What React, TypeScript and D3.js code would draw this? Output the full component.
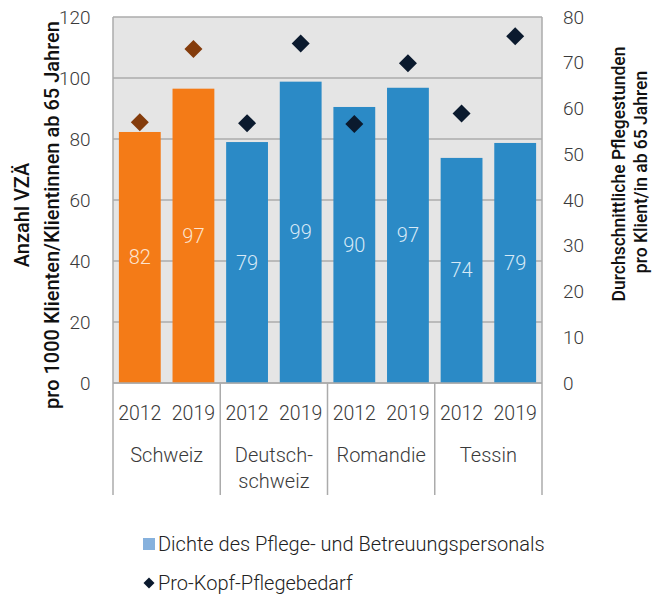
import React from "react";
import * as d3 from "d3";

const groups = ["Schweiz", "Deutsch-\nschweiz", "Romandie", "Tessin"];
const years = ["2012", "2019"];
const barValues = [82.3, 96.5, 79.0, 98.8, 90.5, 96.8, 73.8, 78.7];
const barLabels = ["82", "97", "79", "99", "90", "97", "74", "79"];
const diamondValues = [57.0, 73.0, 56.8, 74.2, 56.6, 69.9, 58.9, 75.8];
const leftTicks = [0, 20, 40, 60, 80, 100, 120];
const rightTicks = [0, 10, 20, 30, 40, 50, 60, 70, 80];

const W = 655;
const H = 596;
const left = 113;
const right = 542;
const top = 17;
const bottom = 383;
const FONT = "Roboto, 'Noto Sans', sans-serif";

export default function App() {
  const keys = barValues.map((_, i) => String(i));
  const x = d3.scaleBand<string>().domain(keys).range([left, right]).paddingInner(0.22).paddingOuter(0.11);
  const yL = d3.scaleLinear().domain([0, 120]).range([bottom, top]);
  const yR = d3.scaleLinear().domain([0, 80]).range([bottom, top]);
  const groupW = (right - left) / groups.length;
  const gridColor = "#ababab";
  const textColor = "#3a3a3a";
  const diamond = (cx: number, cy: number, r: number) =>
    `M${cx},${cy - r}L${cx + r},${cy}L${cx},${cy + r}L${cx - r},${cy}Z`;

  return (
    <svg width={W} height={H} style={{ position: "absolute", left: 0, top: 0 }} fontFamily={FONT}>
      <rect x={left} y={top} width={right - left} height={bottom - top} fill="#e5e5e5" />
      {leftTicks.map((t) => (
        <line key={t} x1={left} x2={right} y1={yL(t)} y2={yL(t)} stroke={gridColor} strokeWidth={1.5} />
      ))}
      <line x1={left} x2={left} y1={top} y2={bottom} stroke={gridColor} strokeWidth={1.5} />
      <line x1={right} x2={right} y1={top} y2={bottom} stroke={gridColor} strokeWidth={1.5} />
      {barValues.map((v, i) => (
        <rect
          key={i}
          x={x(String(i))}
          y={yL(v)}
          width={x.bandwidth()}
          height={bottom - yL(v)}
          fill={i < 2 ? "#f47b17" : "#2b8ac6"}
        />
      ))}
      {barValues.map((v, i) => (
        <text
          key={i}
          x={(x(String(i)) as number) + x.bandwidth() / 2}
          y={(yL(v) + bottom) / 2}
          dy="0.35em"
          textAnchor="middle"
          fontSize={20}
          fontWeight={300}
          fill={i < 2 ? "#fde4cf" : "#d7e9f6"}
        >
          {barLabels[i]}
        </text>
      ))}
      {diamondValues.map((v, i) => (
        <path
          key={i}
          d={diamond((x(String(i)) as number) + x.bandwidth() / 2, yR(v), 9)}
          fill={i < 2 ? "#843c0c" : "#0b1a2e"}
        />
      ))}
      {/* category axis */}
      <line x1={left} x2={right} y1={bottom} y2={bottom} stroke={gridColor} strokeWidth={1.5} />
      {d3.range(groups.length + 1).map((g) => (
        <line
          key={g}
          x1={left + g * groupW}
          x2={left + g * groupW}
          y1={bottom}
          y2={495}
          stroke={gridColor}
          strokeWidth={1.5}
        />
      ))}
      {barValues.map((_, i) => (
        <text
          key={i}
          x={(x(String(i)) as number) + x.bandwidth() / 2}
          y={419.5}
          textAnchor="middle"
          fontSize={19.5}
          fontWeight={300}
          fill={textColor}
        >
          {years[i % 2]}
        </text>
      ))}
      {groups.map((g, gi) => (
        <text key={gi} x={left + (gi + 0.5) * groupW} y={462} textAnchor="middle" fontSize={20} fontWeight={300} fill={textColor}>
          {g.split("\n").map((line, li) => (
            <tspan key={li} x={left + (gi + 0.5) * groupW} dy={li === 0 ? 0 : 26}>
              {line}
            </tspan>
          ))}
        </text>
      ))}
      {/* left axis ticks */}
      {leftTicks.map((t) => (
        <text key={t} x={90.5} y={yL(t)} dy="0.35em" textAnchor="end" fontSize={19} fontWeight={300} fill={textColor}>
          {t}
        </text>
      ))}
      {rightTicks.map((t) => (
        <text key={t} x={563} y={yR(t)} dy="0.35em" textAnchor="start" fontSize={19} fontWeight={300} fill={textColor}>
          {t}
        </text>
      ))}
      {/* axis titles */}
      <text transform="translate(28.5,215) rotate(-90)" textAnchor="middle" fontSize={20} fontWeight={500} fill="#111">
        Anzahl VZÄ
      </text>
      <text transform="translate(58.5,215) rotate(-90)" textAnchor="middle" fontSize={20} fontWeight={500} fill="#111">
        pro 1000 Klienten/Klientinnen ab 65 Jahren
      </text>
      <text transform="translate(625,174) rotate(-90)" textAnchor="middle" fontSize={17.5} fontWeight={500} fill="#111">
        Durchschnittliche Pflegestunden
      </text>
      <text transform="translate(647,172) rotate(-90)" textAnchor="middle" fontSize={17.5} fontWeight={500} fill="#111">
        pro Klient/in ab 65 Jahren
      </text>
      {/* legend */}
      <rect x={143} y={538} width={12} height={12} fill="#86b1dd" />
      <text x={158} y={551} fontSize={20} fontWeight={300} fill="#222">
        Dichte des Pflege- und Betreuungspersonals
      </text>
      <path d={diamond(149, 583, 5.5)} fill="#0b1a2e" />
      <text x={158} y={590} fontSize={20} fontWeight={300} fill="#222">
        Pro-Kopf-Pflegebedarf
      </text>
    </svg>
  );
}
